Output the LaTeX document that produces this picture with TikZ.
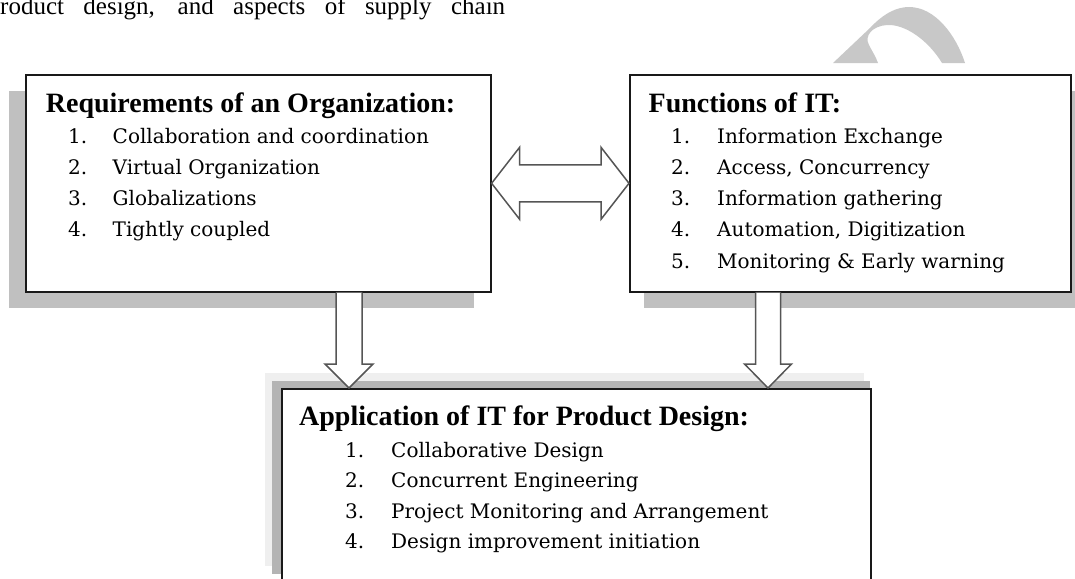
\documentclass[tikz,border=0pt]{standalone}
\usepackage{fontspec}
\setmainfont{Liberation Serif}
\newfontfamily\listfont{DejaVu Serif}
\usetikzlibrary{calc}
\definecolor{shadowgray}{HTML}{C0C0C0}
\definecolor{wmgray}{HTML}{C8C8C8}
\definecolor{haloouter}{HTML}{EFEFEF}
\definecolor{haloinner}{HTML}{B4B4B4}
\definecolor{arrowline}{HTML}{555555}
\begin{document}
\begin{tikzpicture}[x=1pt,y=-1pt,
  panel/.style={draw=black!90, line width=1.6pt, fill=white, inner sep=0pt, anchor=north west},
  heading/.style={anchor=base west, inner sep=0pt, font=\fontsize{28}{30}\selectfont\bfseries},
  num/.style={anchor=base west, inner sep=0pt, font=\listfont\fontsize{20}{24}\selectfont},
  entry/.style={num},
  blockarrow/.style={draw=arrowline, line width=1.5pt, fill=white, line join=miter},
]
\useasboundingbox (0,0) rectangle (1075,578);

% grey arch in the top right corner
\fill[wmgray] (833,63) -- (870,28) .. controls (884,13) and (897,7) .. (909,7)
  .. controls (935,7) and (956,35) .. (965,63) -- (942,63)
  .. controls (928,40) and (905,24) .. (887,25)
  .. controls (872,26) and (864,36) .. (869,45)
  .. controls (872,51) and (876,57) .. (878,63) -- cycle;

% running text above the figure
\node[anchor=base west, inner sep=0pt, font=\fontsize{25}{28}\selectfont] (para) at (0,15)
  {\makebox[505pt][s]{roduct design, and aspects of supply chain}};

% drop shadows
\fill[shadowgray] (9,91) rectangle (474,308);
\fill[shadowgray] (644,91) rectangle (1085,308);
\fill[haloouter] (265,373) rectangle (864,566);
\fill[haloinner] (272,381) rectangle (870,574);

% panels
\node[panel, minimum width=465pt, minimum height=217pt] (req) at (25,74) {};
\node[panel, minimum width=441pt, minimum height=217pt] (fun) at (629,74) {};
\node[panel, minimum width=589pt, minimum height=193pt] (app) at (281,388) {};

% panel texts
\node[heading] (reqhead) at (45.7,112) {Requirements of an Organization:};
\foreach \t [count=\i] in {Collaboration and coordination, Virtual Organization, Globalizations, Tightly coupled} {
  \node[num] (reqnum\i) at (68,{143+31.3*(\i-1)}) {\i.};
  \node[entry] (reqitem\i) at (112.5,{143+31.3*(\i-1)}) {\t};
}

\node[heading] (funhead) at (648.5,112) {Functions of IT:};
\foreach \t [count=\i] in {Information Exchange, {Access, Concurrency}, Information gathering, {Automation, Digitization}, Monitoring \& Early warning} {
  \node[num] (funnum\i) at (671,{143+31.3*(\i-1)}) {\i.};
  \node[entry] (funitem\i) at (717,{143+31.3*(\i-1)}) {\t};
}

\node[heading] (apphead) at (299,425) {Application of IT for Product Design:};
\foreach \t [count=\i] in {Collaborative Design, Concurrent Engineering, Project Monitoring and Arrangement, Design improvement initiation} {
  \node[num] (appnum\i) at (345,{457+30.5*(\i-1)}) {\i.};
  \node[entry] (appitem\i) at (391,{457+30.5*(\i-1)}) {\t};
}

% two-headed block arrow between the upper panels
\draw[blockarrow] (req.east) -- ($(req.east)+(28,-36)$) -- ($(req.east)+(28,-18.5)$)
  -- ($(fun.west)+(-28,-18.5)$) -- ($(fun.west)+(-28,-36)$) -- (fun.west)
  -- ($(fun.west)+(-28,36)$) -- ($(fun.west)+(-28,18.5)$)
  -- ($(req.east)+(28,18.5)$) -- ($(req.east)+(28,36)$) -- cycle;

% block arrows down into the lower panel
\coordinate (dl) at (349,0);
\coordinate (dr) at (768,0);
\draw[blockarrow] ($(dl|-req.south)+(-13,0)$) -- ($(dl|-app.north)+(-13,-24)$)
  -- ($(dl|-app.north)+(-24,-24)$) -- (dl|-app.north) -- ($(dl|-app.north)+(24,-24)$)
  -- ($(dl|-app.north)+(13,-24)$) -- ($(dl|-req.south)+(13,0)$);
\draw[blockarrow] ($(dr|-fun.south)+(-12.5,0)$) -- ($(dr|-app.north)+(-12.5,-24)$)
  -- ($(dr|-app.north)+(-23.5,-24)$) -- (dr|-app.north) -- ($(dr|-app.north)+(23.5,-24)$)
  -- ($(dr|-app.north)+(12.5,-24)$) -- ($(dr|-fun.south)+(12.5,0)$);
\end{tikzpicture}
\end{document}
